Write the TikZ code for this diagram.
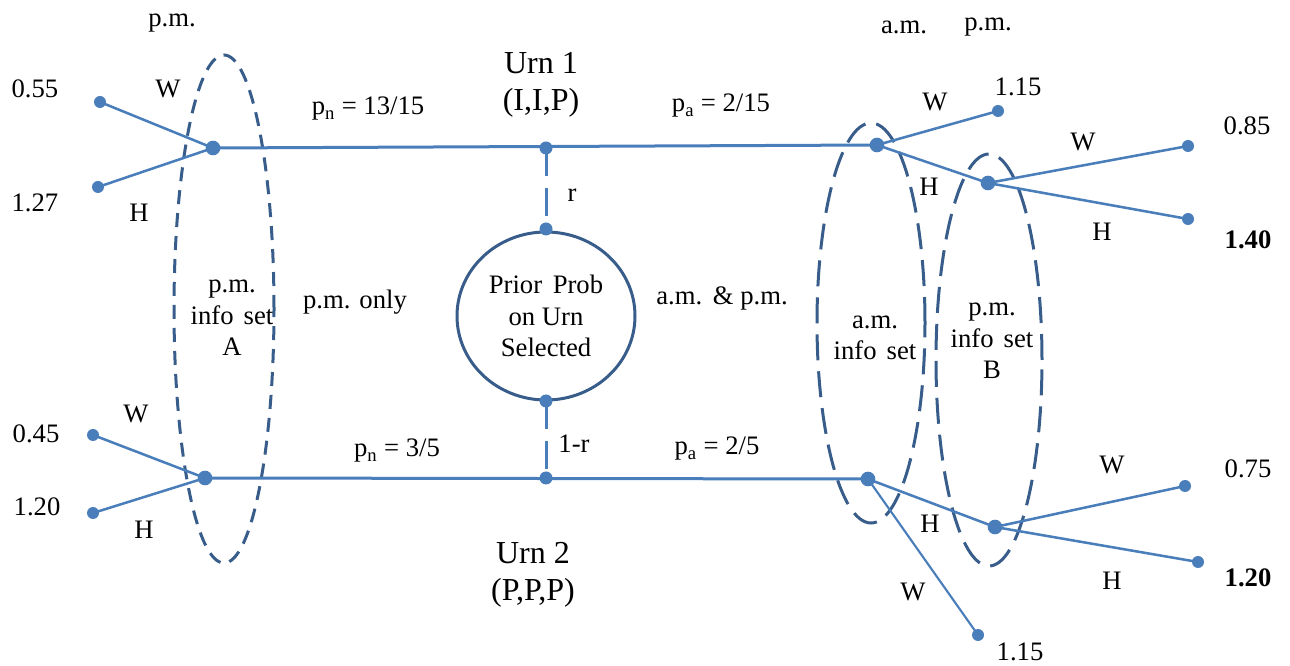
\documentclass[tikz,border=0pt]{standalone}
\usepackage{fontspec}
\setmainfont{Liberation Serif}
\usetikzlibrary{shapes.geometric}
\definecolor{lineblue}{RGB}{74,126,187}
\definecolor{setblue}{RGB}{56,93,138}
\tikzset{
  lbl/.style={inner sep=0pt, align=center, font=\fontsize{20}{23.5}\selectfont},
  urnlbl/.style={inner sep=0pt, align=center, font=\fontsize{24}{27.75}\selectfont},
  leaf/.style={circle, fill=lineblue, inner sep=0pt, minimum size=9pt},
  knot/.style={circle, fill=lineblue, inner sep=0pt, minimum size=11pt},
  middot/.style={circle, fill=lineblue, inner sep=0pt, minimum size=9.75pt},
  branch/.style={draw=lineblue, line width=1.9pt},
  thinbranch/.style={draw=lineblue, line width=1.6pt},
  stem/.style={draw=lineblue, line width=2.25pt},
  chance/.style={draw=lineblue, line width=2.25pt, dash pattern=on 21pt off 9pt},
  infoA/.style={draw=setblue, line width=2.25pt, dash pattern=on 10.5pt off 6.75pt},
  infoB/.style={draw=setblue, line width=2.25pt, dash pattern=on 19.5pt off 8.25pt},
  priorbox/.style={ellipse, draw=setblue, line width=2.25pt, inner sep=0pt,
    minimum width=133.5pt, minimum height=126pt, align=center,
    font=\fontsize{20}{23.5}\selectfont}
}
\begin{document}
\begin{tikzpicture}[x=0.75pt, y=-0.75pt]
\useasboundingbox (0,0) rectangle (1290,666);

% information sets
\draw[infoA] (224,309) ellipse [x radius=37.5pt, y radius=190.5pt];
\draw[infoB] (871,323) ellipse [x radius=40.5pt, y radius=150pt];
\draw[infoB] (989,360) ellipse [x radius=39.75pt, y radius=154.5pt];

% prior
\node[priorbox] (prior) at (546,316) {Prior\hspace{0.4em}Prob\\on Urn\\Selected};

% decision nodes
\node[knot] (A1) at (213,148) {};
\node[knot] (A2) at (205,478) {};
\node[middot] (u1) at (546,148) {};
\node[middot] (u2) at (546,478) {};
\node[middot] (c1) at (546,229) {};
\node[middot] (c2) at (546,401) {};
\node[knot] (R1) at (877,145) {};
\node[knot] (R1b) at (988,183) {};
\node[knot] (R2) at (868,479) {};
\node[knot] (R2b) at (995,527) {};

% leaves
\node[leaf] (lw1) at (100,102) {};
\node[leaf] (lh1) at (98,187) {};
\node[leaf] (lw2) at (93,435) {};
\node[leaf] (lh2) at (93,513) {};
\node[leaf] (rw1) at (998,111) {};
\node[leaf] (rw1b) at (1188,146) {};
\node[leaf] (rh1b) at (1188,219) {};
\node[leaf] (rw2) at (978,635) {};
\node[leaf] (rw2b) at (1185,486) {};
\node[leaf] (rh2b) at (1198,562) {};

% connectors
\draw[stem] (A1.center) -- (R1.center);
\draw[stem] (A2.center) -- (R2.center);
\draw[chance] (u1.center) -- (c1.center);
\draw[chance] (c2.center) -- (u2.center);
\draw[branch] (lw1.center) -- (A1.center);
\draw[branch] (lh1.center) -- (A1.center);
\draw[branch] (lw2.center) -- (A2.center);
\draw[branch] (lh2.center) -- (A2.center);
\draw[branch] (R1.center) -- (rw1.center);
\draw[branch] (R1.center) -- (R1b.center);
\draw[branch] (R1b.center) -- (rw1b.center);
\draw[branch] (R1b.center) -- (rh1b.center);
\draw[branch] (R2.center) -- (R2b.center);
\draw[thinbranch] (R2.center) -- (rw2.center);
\draw[branch] (R2b.center) -- (rw2b.center);
\draw[branch] (R2b.center) -- (rh2b.center);

% labels left
\node[lbl] (tpm) at (172,23) {p.m.};
\node[lbl] (v055) at (35,89) {0.55};
\node[lbl] (wA1) at (168,89) {W};
\node[lbl] (v127) at (35,203) {1.27};
\node[lbl] (hA1) at (139,213) {H};
\node[lbl] (pn1) at (368,109) {p\textsubscript{n} = 13/15};
\node[lbl] (wA2) at (136,414) {W};
\node[lbl] (v045) at (36,434) {0.45};
\node[lbl] (v120a) at (37,507) {1.20};
\node[lbl] (hA2) at (144,530) {H};
\node[lbl] (pn2) at (397,451) {p\textsubscript{n} = 3/5};
\node[lbl] (setA) at (232,318) {p.m.\\info\hspace{0.38em}set\\A};
\node[lbl] (pmonly) at (355,302) {p.m. only};

% centre labels
\node[urnlbl] (urn1) at (541,85) {Urn 1\\(I,I,P)};
\node[urnlbl] (urn2) at (533,575) {Urn 2\\(P,P,P)};
\node[lbl] (pa1) at (721,106) {p\textsubscript{a} = 2/15};
\node[lbl] (pa2) at (717,449) {p\textsubscript{a} = 2/5};
\node[lbl] (rl) at (572,195) {r};
\node[lbl] (omr) at (574,444) {1-r};
\node[lbl] (ampm) at (722,298) {a.m.\hspace{0.4em}\& p.m.};

% labels right
\node[lbl] (tam) at (904,27) {a.m.};
\node[lbl] (tpm2) at (988,27) {p.m.};
\node[lbl] (v115a) at (1018,87) {1.15};
\node[lbl] (wR1) at (935,102) {W};
\node[lbl] (hR1) at (929,187) {H};
\node[lbl] (wR1b) at (1083,142) {W};
\node[lbl] (v085) at (1247,126) {0.85};
\node[lbl] (hR1b) at (1102,232) {H};
\node[lbl] (v140) at (1248,240) {\textbf{1.40}};
\node[lbl] (setam) at (875,338) {a.m.\\info\hspace{0.38em}set};
\node[lbl] (setB) at (992,341) {p.m.\\info\hspace{0.38em}set\\B};
\node[lbl] (wR2b) at (1112,465) {W};
\node[lbl] (v075) at (1248,469) {0.75};
\node[lbl] (hR2) at (930,524) {H};
\node[lbl] (hR2b) at (1112,581) {H};
\node[lbl] (v120b) at (1248,578) {\textbf{1.20}};
\node[lbl] (wR2) at (913,592) {W};
\node[lbl] (v115b) at (1020,652) {1.15};
\end{tikzpicture}
\end{document}
